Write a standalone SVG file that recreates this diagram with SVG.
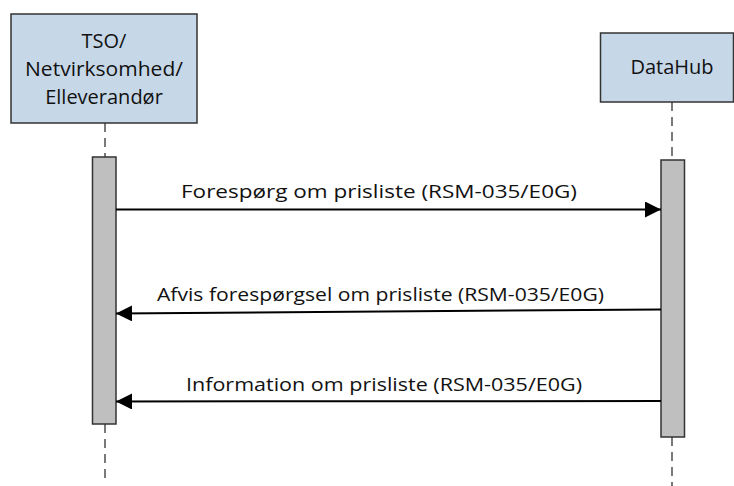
<svg xmlns="http://www.w3.org/2000/svg" width="734" height="486" viewBox="0 0 734 486">
<style>
.box{fill:#C6D7E8;stroke:#333;stroke-width:1.5}
.act{fill:#BFBFBF;stroke:#333;stroke-width:1.5}
.life{stroke:#333;stroke-width:1.3;stroke-dasharray:9 6;fill:none}
.msg{stroke:#000;stroke-width:2;fill:none}
text{font-family:"Open Sans","Liberation Sans",sans-serif;fill:#111}
.h{font-size:20px;text-anchor:middle}
.m{font-size:19px}
</style>
<defs>
<marker id="ah" viewBox="0 0 16 16" refX="16" refY="8" markerWidth="16" markerHeight="16" markerUnits="userSpaceOnUse" orient="auto">
<path d="M0,0 L16,8 L0,16 Z" fill="#000"/>
</marker>
</defs>
<g id="lifelines">
<line class="life" x1="105" y1="123" x2="105" y2="157"/>
<line class="life" x1="105" y1="424" x2="105" y2="478"/>
<line class="life" x1="672" y1="102" x2="672" y2="160"/>
<line class="life" x1="672" y1="437" x2="672" y2="486"/>
</g>
<g id="tso">
<rect class="box" x="11" y="14" width="186" height="109"/>
<text class="h" x="104" y="48">TSO/</text>
<text class="h" x="104" y="76" textLength="158" lengthAdjust="spacingAndGlyphs">Netvirksomhed/</text>
<text class="h" x="104" y="104">Elleverandør</text>
</g>
<g id="datahub">
<rect class="box" x="600.5" y="33" width="133" height="69"/>
<text class="h" x="672" y="74">DataHub</text>
</g>
<g id="act-tso">
<rect class="act" x="92.5" y="157" width="23.5" height="267"/>
</g>
<g id="act-datahub">
<rect class="act" x="661" y="160" width="23.5" height="277"/>
</g>
<g id="connectors">
<line class="msg" x1="116" y1="209.5" x2="661" y2="209.5" marker-end="url(#ah)"/>
<line class="msg" x1="661" y1="309.5" x2="116" y2="313.5" marker-end="url(#ah)"/>
<line class="msg" x1="661" y1="401" x2="116" y2="401.5" marker-end="url(#ah)"/>
</g>
<g id="labels">
<text class="m" x="181" y="198" textLength="396" lengthAdjust="spacingAndGlyphs">Forespørg om prisliste (RSM-035/E0G)</text>
<text class="m" x="157" y="301" textLength="447" lengthAdjust="spacingAndGlyphs">Afvis forespørgsel om prisliste (RSM-035/E0G)</text>
<text class="m" x="186" y="391" textLength="396" lengthAdjust="spacingAndGlyphs">Information om prisliste (RSM-035/E0G)</text>
</g>
</svg>
